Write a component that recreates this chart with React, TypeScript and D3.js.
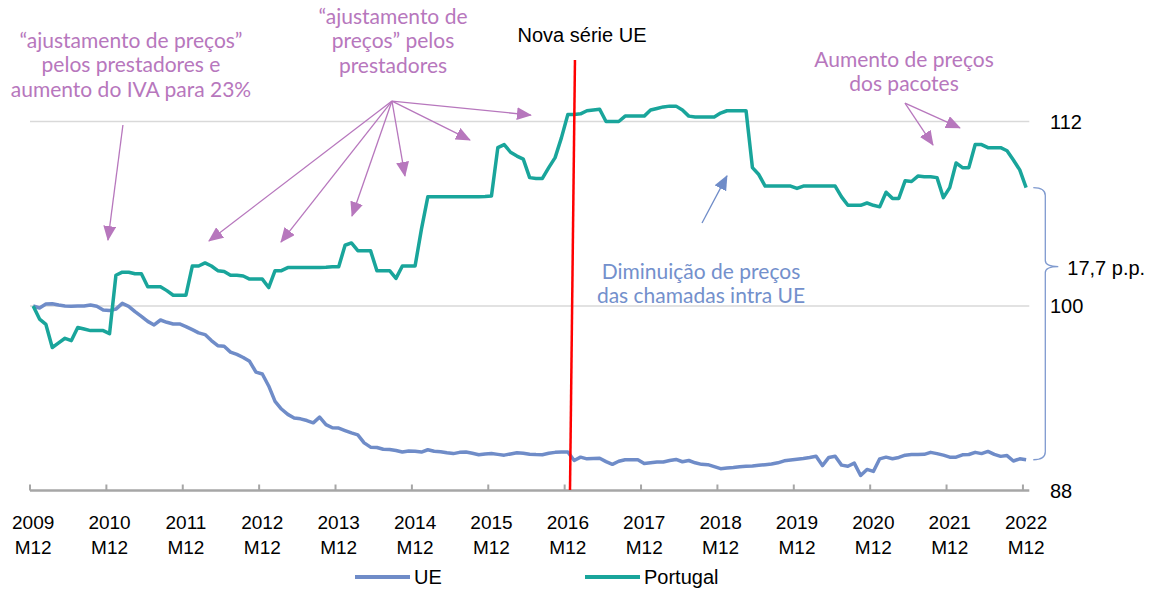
import React from 'react';
import * as d3 from 'd3';

const width = 1156;
const height = 590;

// tick labels (one per December)
const years = ['2009', '2010', '2011', '2012', '2013', '2014', '2015', '2016', '2017', '2018', '2019', '2020', '2021', '2022'];
const monthLabel = 'M12';
const yTicks = [88, 100, 112];
const gridValues = [100, 112];

// monthly index, Dec 2009 = 100
const portugal = [
  100, 99.15, 98.8, 97.3, 97.6, 97.9, 97.75, 98.6, 98.5, 98.4, 98.4, 98.4, 98.2,
  102.0, 102.2, 102.2, 102.1, 102.1, 101.25, 101.25, 101.25, 101.0, 100.7, 100.7, 100.7,
  102.6, 102.6, 102.8, 102.6, 102.3, 102.25, 102.0, 102.0, 101.95, 101.75, 101.75, 101.75,
  101.2, 102.3, 102.3, 102.5, 102.5, 102.5, 102.5, 102.5, 102.5, 102.52, 102.55, 102.55,
  103.95, 104.1, 103.6, 103.6, 103.6, 102.3, 102.3, 102.3, 101.8, 102.6, 102.6, 102.6,
  105.0, 107.1, 107.1, 107.1, 107.1, 107.1, 107.1, 107.1, 107.1, 107.1, 107.12, 107.15,
  110.3, 110.5, 110.0, 109.75, 109.55, 108.35, 108.3, 108.3, 109.0, 109.65, 110.95, 112.45,
  112.45, 112.5, 112.7, 112.75, 112.8, 112.0, 112.0, 112.0, 112.35, 112.35, 112.35, 112.35,
  112.75, 112.85, 112.95, 113.0, 113.0, 112.75, 112.35, 112.3, 112.3, 112.3, 112.3, 112.55,
  112.7, 112.7, 112.7, 112.7, 109.0, 108.55, 107.8, 107.8, 107.8, 107.8, 107.8, 107.65,
  107.8, 107.8, 107.8, 107.8, 107.8, 107.8, 107.1, 106.55, 106.55, 106.55, 106.7, 106.55,
  106.45, 107.4, 107.0, 107.0, 108.15, 108.1, 108.45, 108.4, 108.4, 108.35, 107.05, 107.7,
  109.3, 109.0, 109.0, 110.5, 110.5, 110.3, 110.3, 110.3, 110.1, 109.5, 108.85, 107.7,
];

const ue = [
  100, 99.87, 100.13, 100.15, 100.06, 100.0, 99.98, 100.0, 100.0, 100.07, 99.98, 99.74, 99.7,
  99.8, 100.17, 99.98, 99.63, 99.33, 99.0, 98.77, 99.09, 98.94, 98.83, 98.83, 98.66,
  98.46, 98.25, 98.14, 97.75, 97.42, 97.38, 97.0, 96.85, 96.65, 96.4, 95.7, 95.58,
  94.8, 93.8, 93.3, 92.95, 92.72, 92.66, 92.55, 92.4, 92.77, 92.28, 92.08, 92.06,
  91.9, 91.75, 91.62, 91.1, 90.82, 90.8, 90.68, 90.67, 90.6, 90.5, 90.57, 90.55,
  90.5, 90.65, 90.55, 90.52, 90.45, 90.4, 90.48, 90.5, 90.42, 90.33, 90.38, 90.4,
  90.35, 90.3, 90.38, 90.45, 90.42, 90.36, 90.34, 90.33, 90.42, 90.48, 90.5, 90.5,
  89.95, 90.17, 90.06, 90.08, 90.1, 89.88, 89.7, 89.9, 90.0, 90.0, 90.0, 89.75,
  89.8, 89.85, 89.85, 89.95, 90.02, 89.87, 89.95, 89.8, 89.7, 89.68, 89.55, 89.42,
  89.46, 89.5, 89.55, 89.58, 89.6, 89.64, 89.68, 89.72, 89.8, 89.93, 89.98, 90.03,
  90.08, 90.15, 90.23, 89.62, 90.15, 90.23, 89.65, 89.58, 89.78, 88.98, 89.37, 89.24,
  90.06, 90.17, 90.07, 90.15, 90.3, 90.34, 90.34, 90.35, 90.48, 90.4, 90.3, 90.17,
  90.17, 90.32, 90.34, 90.48, 90.4, 90.54, 90.35, 90.22, 90.27, 89.92, 90.06, 90.0,
];

const gapLabel = '17,7 p.p.';

// annotation arrows in (month index, value) space
const purpleArrows = [
  { from: [14.1, 111.77], to: [11.75, 104.29] },
  { from: [56.37, 113.33], to: [27.62, 104.23] },
  { from: [56.37, 113.33], to: [38.93, 104.16] },
  { from: [56.37, 113.33], to: [50.09, 105.85] },
  { from: [56.37, 113.33], to: [58.41, 108.46] },
  { from: [56.37, 113.33], to: [68.62, 110.8] },
  { from: [56.37, 113.33], to: [78.2, 112.42] },
  { from: [136.97, 113.2], to: [141.37, 110.47] },
  { from: [136.97, 113.2], to: [145.6, 111.58] },
];
const blueArrows = [{ from: [105.08, 105.4], to: [109.0, 108.46] }];
const newSeriesLine = { from: [85.12, 116.0], to: [84.34, 88.03] };

const TEAL = '#19A59B';
const BLUE = '#6F8CC8';
const PURPLE = '#B777BD';
const BLUE_TXT = '#7390CC';
const LATO = 'Lato, "Open Sans", sans-serif';
const SANS = '"Liberation Sans", Arial, sans-serif';

const x = d3.scaleLinear().domain([-0.5, portugal.length - 0.5]).range([30, 1029.3]);
const y = d3.scaleLinear().domain([88, 112]).range([490.5, 121.5]);

const line = d3.line<number>()
  .x((d, i) => x(i))
  .y(d => y(d));

export default function App() {
  const xEnd = x(portugal.length - 0.5);
  const top = y(portugal[portugal.length - 1]);
  const bottom = y(ue[ue.length - 1]);
  const x0 = xEnd + 4;
  const xv = x0 + 12;
  const xt = x0 + 25;
  const tipY = top + (bottom - top) * 0.29;
  const brace = `M${x0},${top} Q${xv},${top} ${xv},${top + 8} L${xv},${tipY - 6} Q${xv},${tipY} ${xt},${tipY} Q${xv},${tipY} ${xv},${tipY + 6} L${xv},${bottom - 8} Q${xv},${bottom} ${x0},${bottom}`;

  return (
    <svg width={width} height={height} style={{ position: 'absolute', left: 0, top: 0, background: '#fff' }}>
      <defs>
        <marker id="headP" markerUnits="userSpaceOnUse" viewBox="0 0 15 13" markerWidth={15} markerHeight={13} refX={14} refY={6.5} orient="auto">
          <path d="M0,0 L15,6.5 L0,13 z" fill={PURPLE} />
        </marker>
        <marker id="headB" markerUnits="userSpaceOnUse" viewBox="0 0 15 13" markerWidth={15} markerHeight={13} refX={14} refY={6.5} orient="auto">
          <path d="M0,0 L15,6.5 L0,13 z" fill={BLUE} />
        </marker>
      </defs>

      {/* gridlines */}
      {gridValues.map(v => (
        <line key={v} x1={x(-0.5)} x2={xEnd} y1={y(v)} y2={y(v)} stroke="#D9D9D9" strokeWidth={1.3} />
      ))}

      {/* x axis */}
      <line x1={x(-0.5)} x2={xEnd} y1={y(88)} y2={y(88)} stroke="#A6A6A6" strokeWidth={2.5} />
      {years.map((yr, k) => (
        <g key={yr}>
          <line x1={x(k * 12 - 0.5)} x2={x(k * 12 - 0.5)} y1={y(88) - 6} y2={y(88)} stroke="#A6A6A6" strokeWidth={2} />
          <text x={x(k * 12)} y={529} textAnchor="middle" fontFamily={SANS} fontSize={19} fill="#000">{yr}</text>
          <text x={x(k * 12)} y={554} textAnchor="middle" fontFamily={SANS} fontSize={19} fill="#000">{monthLabel}</text>
        </g>
      ))}

      {/* y labels on the right */}
      {yTicks.map(v => (
        <text key={v} x={1050} y={y(v) + 7} fontFamily={SANS} fontSize={20} fill="#000">{v}</text>
      ))}

      {/* series */}
      <path d={line(ue) || ''} fill="none" stroke={BLUE} strokeWidth={3.5} strokeLinejoin="round" />
      <path d={line(portugal) || ''} fill="none" stroke={TEAL} strokeWidth={3.5} strokeLinejoin="round" />

      {/* new EU series marker */}
      <line x1={x(newSeriesLine.from[0])} y1={y(newSeriesLine.from[1])} x2={x(newSeriesLine.to[0])} y2={y(newSeriesLine.to[1])} stroke="#FF0000" strokeWidth={2.5} />
      <text x={582} y={42} textAnchor="middle" fontFamily={SANS} fontSize={20} fill="#000">Nova série UE</text>

      {/* arrows */}
      {purpleArrows.map((a, i) => (
        <line key={'p' + i} x1={x(a.from[0])} y1={y(a.from[1])} x2={x(a.to[0])} y2={y(a.to[1])} stroke={PURPLE} strokeWidth={1.3} markerEnd="url(#headP)" />
      ))}
      {blueArrows.map((a, i) => (
        <line key={'b' + i} x1={x(a.from[0])} y1={y(a.from[1])} x2={x(a.to[0])} y2={y(a.to[1])} stroke={BLUE} strokeWidth={1.3} markerEnd="url(#headB)" />
      ))}

      {/* annotation texts */}
      <g fontFamily={LATO} fontSize={21} fill={PURPLE} textAnchor="middle">
        <text x={131} y={48}>“ajustamento de preços”</text>
        <text x={131} y={72}>pelos prestadores e</text>
        <text x={131} y={97}>aumento do IVA para 23%</text>
        <text x={393} y={24}>“ajustamento de</text>
        <text x={393} y={48}>preços” pelos</text>
        <text x={393} y={73}>prestadores</text>
        <text x={904} y={67}>Aumento de preços</text>
        <text x={904} y={91}>dos pacotes</text>
      </g>
      <g fontFamily={LATO} fontSize={21} fill={BLUE_TXT} textAnchor="middle">
        <text x={701} y={279}>Diminuição de preços</text>
        <text x={701} y={303}>das chamadas intra UE</text>
      </g>

      {/* gap brace */}
      <path d={brace} fill="none" stroke="#7F9ACF" strokeWidth={1.3} />
      <text x={xt + 9} y={tipY + 8} fontFamily={SANS} fontSize={20} fill="#000">{gapLabel}</text>

      {/* legend */}
      <line x1={355} x2={410} y1={577} y2={577} stroke={BLUE} strokeWidth={4} />
      <text x={414} y={584} fontFamily={SANS} fontSize={20} fill="#000">UE</text>
      <line x1={585} x2={640} y1={577} y2={577} stroke={TEAL} strokeWidth={4} />
      <text x={644} y={584} fontFamily={SANS} fontSize={20} fill="#000">Portugal</text>
    </svg>
  );
}
